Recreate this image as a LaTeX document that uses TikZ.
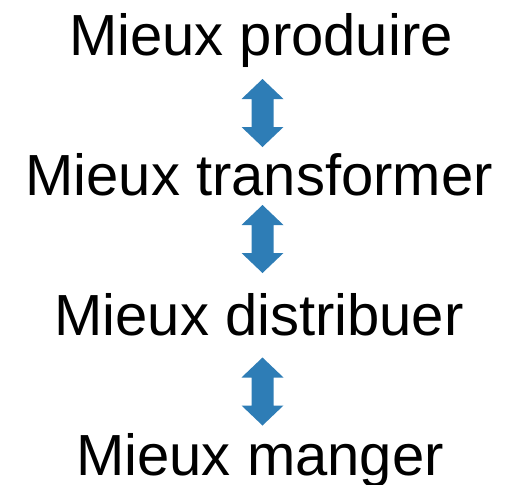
\documentclass[tikz,border=0pt]{standalone}
\usepackage{fontspec}
\setmainfont{Liberation Sans}
\definecolor{arrowblue}{RGB}{46,125,182}
\tikzset{
  label/.style={anchor=base, inner sep=0pt, font=\fontsize{58}{60}\selectfont},
  dbl/.pic={\fill[arrowblue] (0,34) -- (21,14) -- (11,14) -- (11,-14) -- (21,-14) -- (0,-34) -- (-21,-14) -- (-11,-14) -- (-11,14) -- (-21,14) -- cycle;}
}
\begin{document}
\begin{tikzpicture}[x=1pt,y=1pt]
\useasboundingbox (0,0) rectangle (507,-485);
\node[label] (p) at (261,-55) {Mieux produire};
\node[label] (t) at (259,-195) {Mieux transformer};
\node[label] (d) at (259,-335) {Mieux distribuer};
\node[label] (m) at (260,-475) {Mieux manger};
\pic at (262.5,-113) {dbl};
\pic at (262.5,-239) {dbl};
\pic at (262.5,-391.5) {dbl};
\end{tikzpicture}
\end{document}
